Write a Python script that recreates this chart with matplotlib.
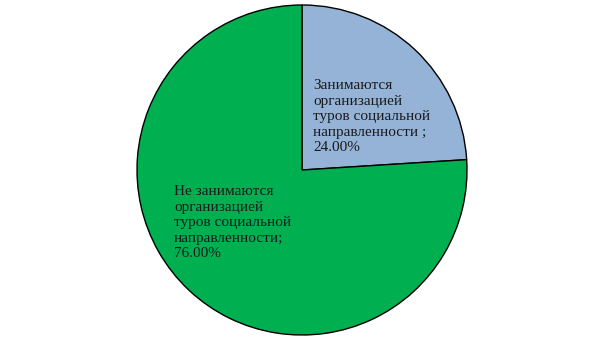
import matplotlib
matplotlib.use('Agg')
import matplotlib.pyplot as plt

# ── Data ──────────────────────────────────────────────────────────────────────
categories = ['Занимаются\nорганизацией\nтуров социальной\nнаправленности ;',
              'Не занимаются\nорганизацией\nтуров социальной\nнаправленности;']
shares     = [24.0, 76.0]
colors     = ['#95b3d7', '#00b050']

plt.rcParams['font.family'] = ['Liberation Serif', 'DejaVu Serif']

fig = plt.figure(figsize=(6.05, 3.4), dpi=100)
cx, cy, r = 302, 170, 165
ax = fig.add_axes([(cx - r) / 605, (340 - cy - r) / 340, 2 * r / 605, 2 * r / 340])

wedges, _ = ax.pie(shares, colors=colors, startangle=90, counterclock=False,
                   radius=1, wedgeprops=dict(edgecolor='black', linewidth=1))
ax.set_xlim(-1, 1)
ax.set_ylim(-1, 1)

# label positions (data coords)
label_pos = [(0.067, 0.324), (-0.776, -0.321)]
for cat, val, (x, y) in zip(categories, shares, label_pos):
    ax.text(x, y, f'{cat}\n{val:.2f}%', ha='left', va='center',
            fontsize=11, color='#1a1a1a', linespacing=1.25)

fig.savefig('out.png', dpi=100)
